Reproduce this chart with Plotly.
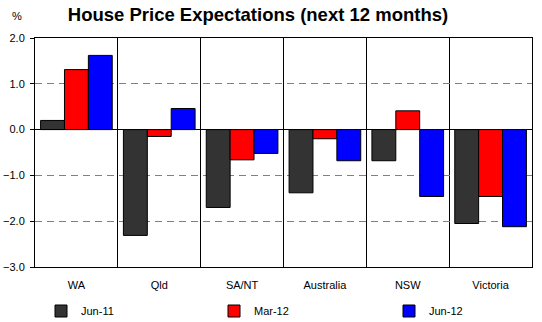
import plotly.graph_objects as go

# Expected change in house prices over the next 12 months, by region (%)
regions = ["WA", "Qld", "SA/NT", "Australia", "NSW", "Victoria"]
jun_11 = [0.20, -2.31, -1.70, -1.38, -0.68, -2.05]
mar_12 = [1.31, -0.15, -0.66, -0.20, 0.41, -1.46]
jun_12 = [1.62, 0.46, -0.52, -0.68, -1.46, -2.12]

series = [
    ("Jun-11", jun_11, "#333333", "legend"),
    ("Mar-12", mar_12, "#ff0000", "legend2"),
    ("Jun-12", jun_12, "#0000ff", "legend3"),
]

W, H = 542, 322
M = dict(l=35, r=10, t=38, b=55, autoexpand=False)

fig = go.Figure()
for name, vals, color, leg in series:
    fig.add_trace(go.Bar(
        x=regions, y=vals, name=name, legend=leg, showlegend=True,
        marker=dict(color=color, line=dict(color="black", width=1)),
    ))

font = dict(family="Liberation Sans, Arial, sans-serif", size=11, color="black")

def legend_at(px):
    return dict(
        x=px / W, xref="container", xanchor="left",
        y=(H - 311) / H, yref="container", yanchor="middle",
        orientation="h", bgcolor="rgba(0,0,0,0)",
        font=font, itemwidth=30,
    )

fig.update_layout(
    width=W, height=H, margin=M, showlegend=True,
    paper_bgcolor="white", plot_bgcolor="white",
    font=font,
    barmode="group", bargap=0.135, bargroupgap=0,
    title=dict(
        text="<b>House Price Expectations (next 12 months)</b>",
        x=258 / W, xref="container", xanchor="center",
        y=1 - 15 / H, yref="container", yanchor="middle",
        font=dict(family="Liberation Sans, Arial, sans-serif", size=18.5, color="black"),
    ),
    legend=legend_at(41),
    legend2=legend_at(214),
    legend3=legend_at(389),
    xaxis=dict(
        type="category", tickson="boundaries", automargin=False,
        showgrid=True, gridcolor="black", gridwidth=1,
        showline=True, linecolor="black", linewidth=1, mirror=True,
        ticks="", ticklabelstandoff=8,
        tickfont=font,
    ),
    yaxis=dict(
        range=[-3, 2], dtick=1, tickformat=".1f", automargin=False,
        showgrid=True, gridcolor="#808080", gridwidth=1, griddash="7px,5px",
        zeroline=True, zerolinecolor="black", zerolinewidth=1,
        showline=True, linecolor="black", linewidth=1, mirror=True,
        ticks="outside", ticklen=4, tickcolor="black", ticklabelstandoff=3,
        tickfont=font,
    ),
    annotations=[dict(
        text="%", x=(17 - 35) / (W - 35 - 10), xref="paper",
        y=(H - 55 - 16) / (H - 38 - 55), yref="paper",
        xanchor="center", yanchor="middle", showarrow=False, font=font,
    )],
)

fig.write_html("out.html")
